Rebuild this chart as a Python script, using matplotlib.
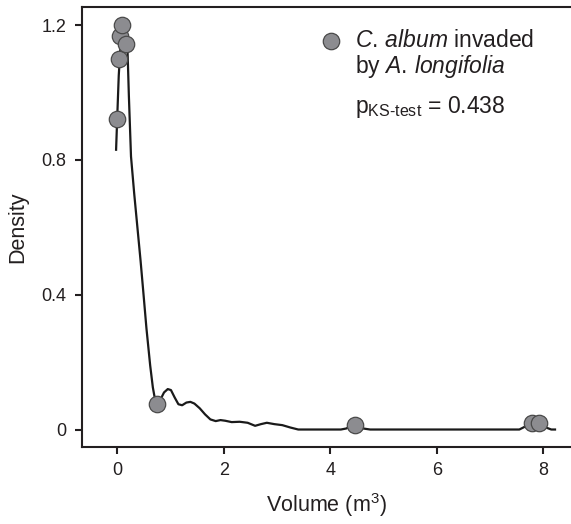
import numpy as np
import matplotlib
matplotlib.use("Agg")
import matplotlib.pyplot as plt

plt.rcParams['font.family'] = ['Liberation Sans', 'DejaVu Sans']
plt.rcParams['mathtext.fontset'] = 'custom'
plt.rcParams['mathtext.rm'] = 'Liberation Sans'
plt.rcParams['mathtext.it'] = 'Liberation Sans:italic'

ink = '#231f20'

# Observed volumes and their density values (points on the curve)
point_x = [0.0, 0.04, 0.06, 0.09, 0.16, 0.75, 4.46, 7.78, 7.91]
point_y = [0.92, 1.10, 1.167, 1.20, 1.145, 0.077, 0.013, 0.018, 0.018]

# Kernel density curve
curve_x = [-0.02, 0.0, 0.03, 0.06, 0.09, 0.11, 0.14, 0.17, 0.19, 0.22, 0.26,
           0.32, 0.38, 0.44, 0.49, 0.55, 0.62, 0.67, 0.71, 0.75, 0.80, 0.88,
           0.95, 1.01, 1.08, 1.15, 1.22, 1.30, 1.375, 1.45, 1.55, 1.65, 1.75,
           1.85, 1.94, 2.03, 2.15, 2.30, 2.45, 2.59, 2.70, 2.81, 2.95, 3.10,
           3.25, 3.40, 3.60, 4.20, 4.30, 4.40, 4.46, 4.52, 4.62, 4.75, 7.55,
           7.65, 7.75, 7.85, 7.95, 8.05, 8.15, 8.22]
curve_y = [0.83, 0.92, 1.05, 1.13, 1.18, 1.19, 1.17, 1.16, 1.15, 0.99, 0.81,
           0.70, 0.60, 0.50, 0.41, 0.30, 0.19, 0.125, 0.09, 0.077, 0.085, 0.11,
           0.12, 0.117, 0.095, 0.075, 0.072, 0.08, 0.082, 0.077, 0.063, 0.045,
           0.03, 0.025, 0.028, 0.026, 0.022, 0.023, 0.02, 0.011, 0.016, 0.02,
           0.016, 0.013, 0.006, 0.0, 0.0, 0.0, 0.003, 0.011, 0.013, 0.011,
           0.003, 0.0, 0.0, 0.008, 0.017, 0.019, 0.016, 0.006, 0.0, 0.0]

xticks = [0, 2, 4, 6, 8]
yticks = [0, 0.4, 0.8, 1.2]
yticklabels = ['0', '0.4', '0.8', '1.2']

fig = plt.figure(figsize=(5.71, 5.24), dpi=100)
ax = fig.add_axes([0.1436, 0.1475, 0.8564, 0.8395])

ax.plot(curve_x, curve_y, color='#1a1a1a', lw=1.6, zorder=2)
ax.scatter(point_x, point_y, s=140, color='#8c8c90', edgecolor='#4a4a4a',
           linewidth=0.9, zorder=3)

ax.set_xlim(-0.66, 8.52)
ax.set_ylim(-0.051, 1.254)
ax.set_xticks(xticks)
ax.set_xticklabels([str(t) for t in xticks])
ax.set_yticks(yticks)
ax.set_yticklabels(yticklabels)

for side in ['left', 'top', 'bottom']:
    ax.spines[side].set_linewidth(1.5)
    ax.spines[side].set_color(ink)
ax.spines['right'].set_visible(False)
ax.tick_params(direction='out', length=5, width=1.5, colors=ink,
               labelsize=13, pad=6)

ax.set_xlabel('Volume (m$^3$)', fontsize=15.5, color=ink, labelpad=9)
ax.set_ylabel('Density', fontsize=15.5, color=ink, labelpad=10)

# legend-like annotation
ax.scatter([0.5797], [0.921], s=140, color='#8c8c90', edgecolor='#4a4a4a',
           linewidth=0.9, transform=fig.transFigure, clip_on=False)
fig.text(0.622, 0.923, r'$\it{C.\,album}$ invaded', fontsize=16.5,
         color=ink, va='center')
fig.text(0.622, 0.874, r'by $\it{A.\,longifolia}$', fontsize=16.5,
         color=ink, va='center')
fig.text(0.622, 0.795, r'p$_{\mathrm{KS\text{-}test}}$ = 0.438', fontsize=16.5,
         color=ink, va='center')

fig.savefig('out.png', dpi=100)
